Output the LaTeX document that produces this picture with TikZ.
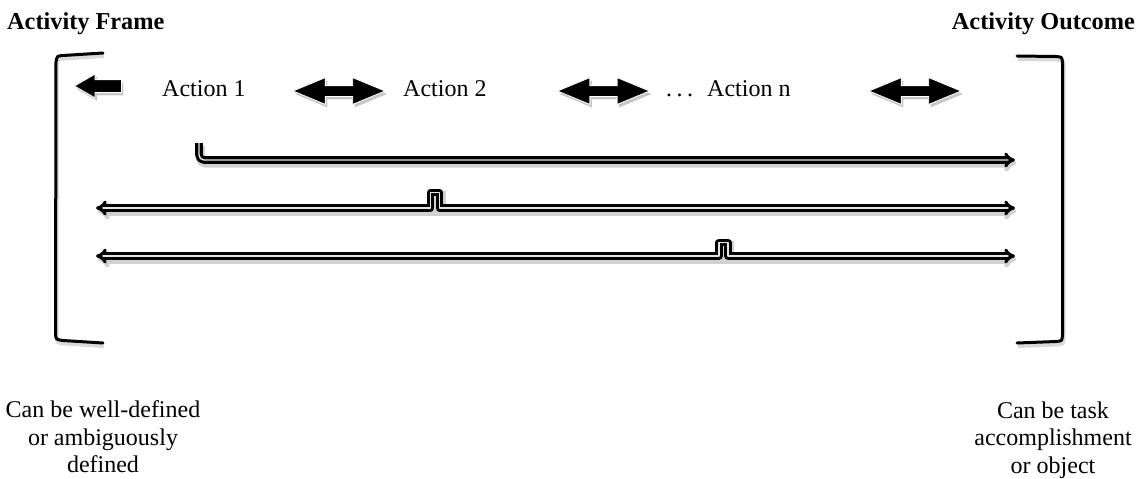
\documentclass[tikz,border=0pt]{standalone}
\usepackage{fontspec}
\setmainfont{Liberation Serif}
\usetikzlibrary{arrows.meta,shapes.arrows,shadows}
\tikzset{
  lbl/.style={inner sep=0pt, font=\fontsize{24}{27.5}\selectfont},
  head/.style={lbl, font=\fontsize{24.3}{27.5}\selectfont\bfseries},
  note/.style={lbl, align=center, anchor=north},
  blk/.style={fill=black, draw=white, line width=0.8pt, inner sep=0pt,
    drop shadow={shadow xshift=2pt, shadow yshift=-3pt, opacity=0.22, fill=black}},
  darrow/.style={blk, double arrow, minimum height=92pt, minimum width=26pt,
    double arrow head extend=8pt, double arrow tip angle=45, inner ysep=5pt, inner xsep=0pt},
  sarrow/.style={blk, single arrow, minimum height=47pt, minimum width=23pt,
    single arrow head extend=5.5pt, single arrow tip angle=60, inner ysep=6pt, inner xsep=0pt,
    shape border rotate=180},
  shade line/.style={preaction={draw=black!18, line width=9pt, transform canvas={xshift=1.5pt,yshift=-3pt}}},
  conn/.style={shade line, draw=black, line width=3.1pt, double=white!80!gray, double distance=1.4pt,
    line join=round, >={Implies[scale=1.15]}},
  bracket/.style={draw=black, line width=3pt, line cap=round,
    preaction={draw=black!15, line width=4pt, transform canvas={xshift=1pt,yshift=-3pt}}}
}
\begin{document}
\begin{tikzpicture}[x=1pt,y=-1pt]
\useasboundingbox (0,0) rectangle (1144,479);

% headings
\node[head, anchor=base west] (hf) at (7,30) {Activity Frame};
\node[head, anchor=base east] (ho) at (1135,30) {Activity Outcome};

% brackets
\draw[bracket] (103,53) -- (63,55.5) .. controls (57,56) .. (56,62) -- (55.5,334)
  .. controls (56,339.5) .. (63,340.5) -- (103,343);
\draw[bracket] (1017,56) -- (1056,56.5) .. controls (1062,57) .. (1062.5,63) -- (1062.5,335)
  .. controls (1062,341) .. (1056,341.5) -- (1017,343);

% block arrows and action labels
\node[sarrow] (a0) at (103.5,86) {};
\node[lbl, anchor=base west] (t1) at (162,96) {Action 1};
\node[darrow] (a1) at (339,91) {};
\node[lbl, anchor=base west] (t2) at (403,96) {Action 2};
\node[darrow] (a2) at (603.5,91) {};
\node[lbl, anchor=base west] (tn) at (666,96) {.\hspace{4.5pt}.\hspace{4.5pt}.\hspace{14pt}Action n};
\node[darrow] (a3) at (915,91) {};

% connector end points
\coordinate (s1) at (199,143);
\coordinate (e1) at (1015,160);
\coordinate (s2) at (96,208);
\coordinate (e2) at (1015,208);
\coordinate (s3) at (96,256);
\coordinate (e3) at (1015,256);

\draw[conn, rounded corners=5pt, ->] (s1) |- (e1);
\draw[conn, <->] (s2) -- (430.5,208) -- (430.5,192.5) -- (439.5,192.5) -- (439.5,208) -- (e2);
\draw[conn, <->] (s3) -- (719,256) -- (719,242.5) -- (728,242.5) -- (728,256) -- (e3);

% notes
\node[note] (nl) at (103,400.6) {Can be well-defined\\or ambiguously\\defined};
\node[note] (nr) at (1053,401.6) {Can be task\\accomplishment\\or object};
\end{tikzpicture}
\end{document}
